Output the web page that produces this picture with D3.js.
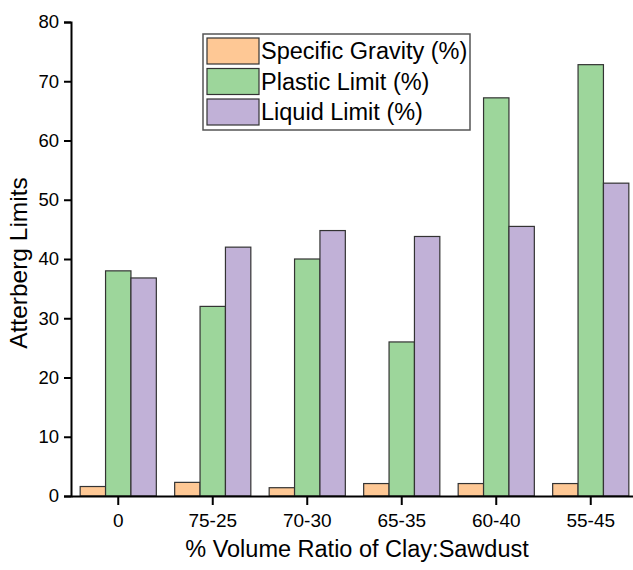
<!DOCTYPE html>
<html>
<head>
<meta charset="utf-8">
<script src="https://cdn.jsdelivr.net/npm/d3@7"></script>
<style>
  body { margin: 0; background: #fff; }
  text { font-family: "Liberation Sans", Arial, sans-serif; fill: #000; }
</style>
</head>
<body>
<svg id="chart"></svg>
<script>
const categories = ["0", "75-25", "70-30", "65-35", "60-40", "55-45"];
const seriesNames = ["Specific Gravity (%)", "Plastic Limit (%)", "Liquid Limit (%)"];
const specificGravity = [1.6, 2.3, 1.4, 2.1, 2.1, 2.1];
const plasticLimit = [38, 32, 40, 26, 67.2, 72.8];
const liquidLimit = [36.8, 42, 44.8, 43.8, 45.5, 52.8];
const yTicks = [0, 10, 20, 30, 40, 50, 60, 70, 80];
const colors = ["#fec895", "#9dd69b", "#c1b1d7"];

const width = 633, height = 570;
const margin = { top: 22, right: -5, bottom: 74, left: 71 };

const svg = d3.select("#chart").attr("width", width).attr("height", height);

const x = d3.scaleBand()
  .domain(categories)
  .range([margin.left, width - margin.right])
  .paddingInner(0.194)
  .paddingOuter(0.097);

const xSub = d3.scaleBand()
  .domain(seriesNames)
  .range([0, x.bandwidth()]);

const y = d3.scaleLinear()
  .domain([0, 80])
  .range([height - margin.bottom, margin.top]);

const series = [specificGravity, plasticLimit, liquidLimit];
const rows = [];
categories.forEach((c, i) => {
  seriesNames.forEach((s, j) => rows.push({ c, s, j, v: series[j][i] }));
});

svg.append("g")
  .selectAll("rect")
  .data(rows)
  .join("rect")
  .attr("x", d => x(d.c) + xSub(d.s))
  .attr("y", d => y(d.v))
  .attr("width", xSub.bandwidth())
  .attr("height", d => y(0) - y(d.v))
  .attr("fill", d => colors[d.j])
  .attr("stroke", "#333")
  .attr("stroke-width", 1.2);

// axes
const yAxis = svg.append("g")
  .attr("transform", `translate(${margin.left},0)`)
  .call(d3.axisLeft(y).tickValues(yTicks).tickSize(7).tickPadding(5));
yAxis.select(".domain").attr("stroke", "#000").attr("stroke-width", 2);
yAxis.selectAll(".tick line").attr("stroke", "#000").attr("stroke-width", 2);
yAxis.selectAll("text").style("font-size", "18.5px");

const xAxis = svg.append("g")
  .attr("transform", `translate(0,${y(0)})`)
  .call(d3.axisBottom(x).tickSize(9).tickSizeOuter(0).tickPadding(9));
xAxis.select(".domain").attr("stroke", "#000").attr("stroke-width", 2);
xAxis.selectAll(".tick line").attr("stroke", "#000").attr("stroke-width", 2);
xAxis.selectAll("text").style("font-size", "19px");

// axis titles
svg.append("text")
  .attr("x", 357)
  .attr("y", 557)
  .attr("text-anchor", "middle")
  .style("font-size", "23.5px")
  .text("% Volume Ratio of Clay:Sawdust");

svg.append("text")
  .attr("transform", `translate(27,263) rotate(-90)`)
  .attr("text-anchor", "middle")
  .style("font-size", "24.5px")
  .text("Atterberg Limits");

// legend
const legend = svg.append("g").attr("transform", "translate(203,34)");
legend.append("rect")
  .attr("width", 267)
  .attr("height", 96)
  .attr("fill", "#fff")
  .attr("stroke", "#555")
  .attr("stroke-width", 1.5);

const item = legend.selectAll("g.item")
  .data(seriesNames)
  .join("g")
  .attr("class", "item")
  .attr("transform", (d, i) => `translate(4,${4 + i * 30.5})`);

item.append("rect")
  .attr("width", 52)
  .attr("height", 26)
  .attr("fill", (d, i) => colors[i])
  .attr("stroke", "#333")
  .attr("stroke-width", 1.2);

item.append("text")
  .attr("x", 54)
  .attr("y", 13)
  .attr("dy", "0.36em")
  .style("font-size", "23.5px")
  .text(d => d);
</script>
</body>
</html>
